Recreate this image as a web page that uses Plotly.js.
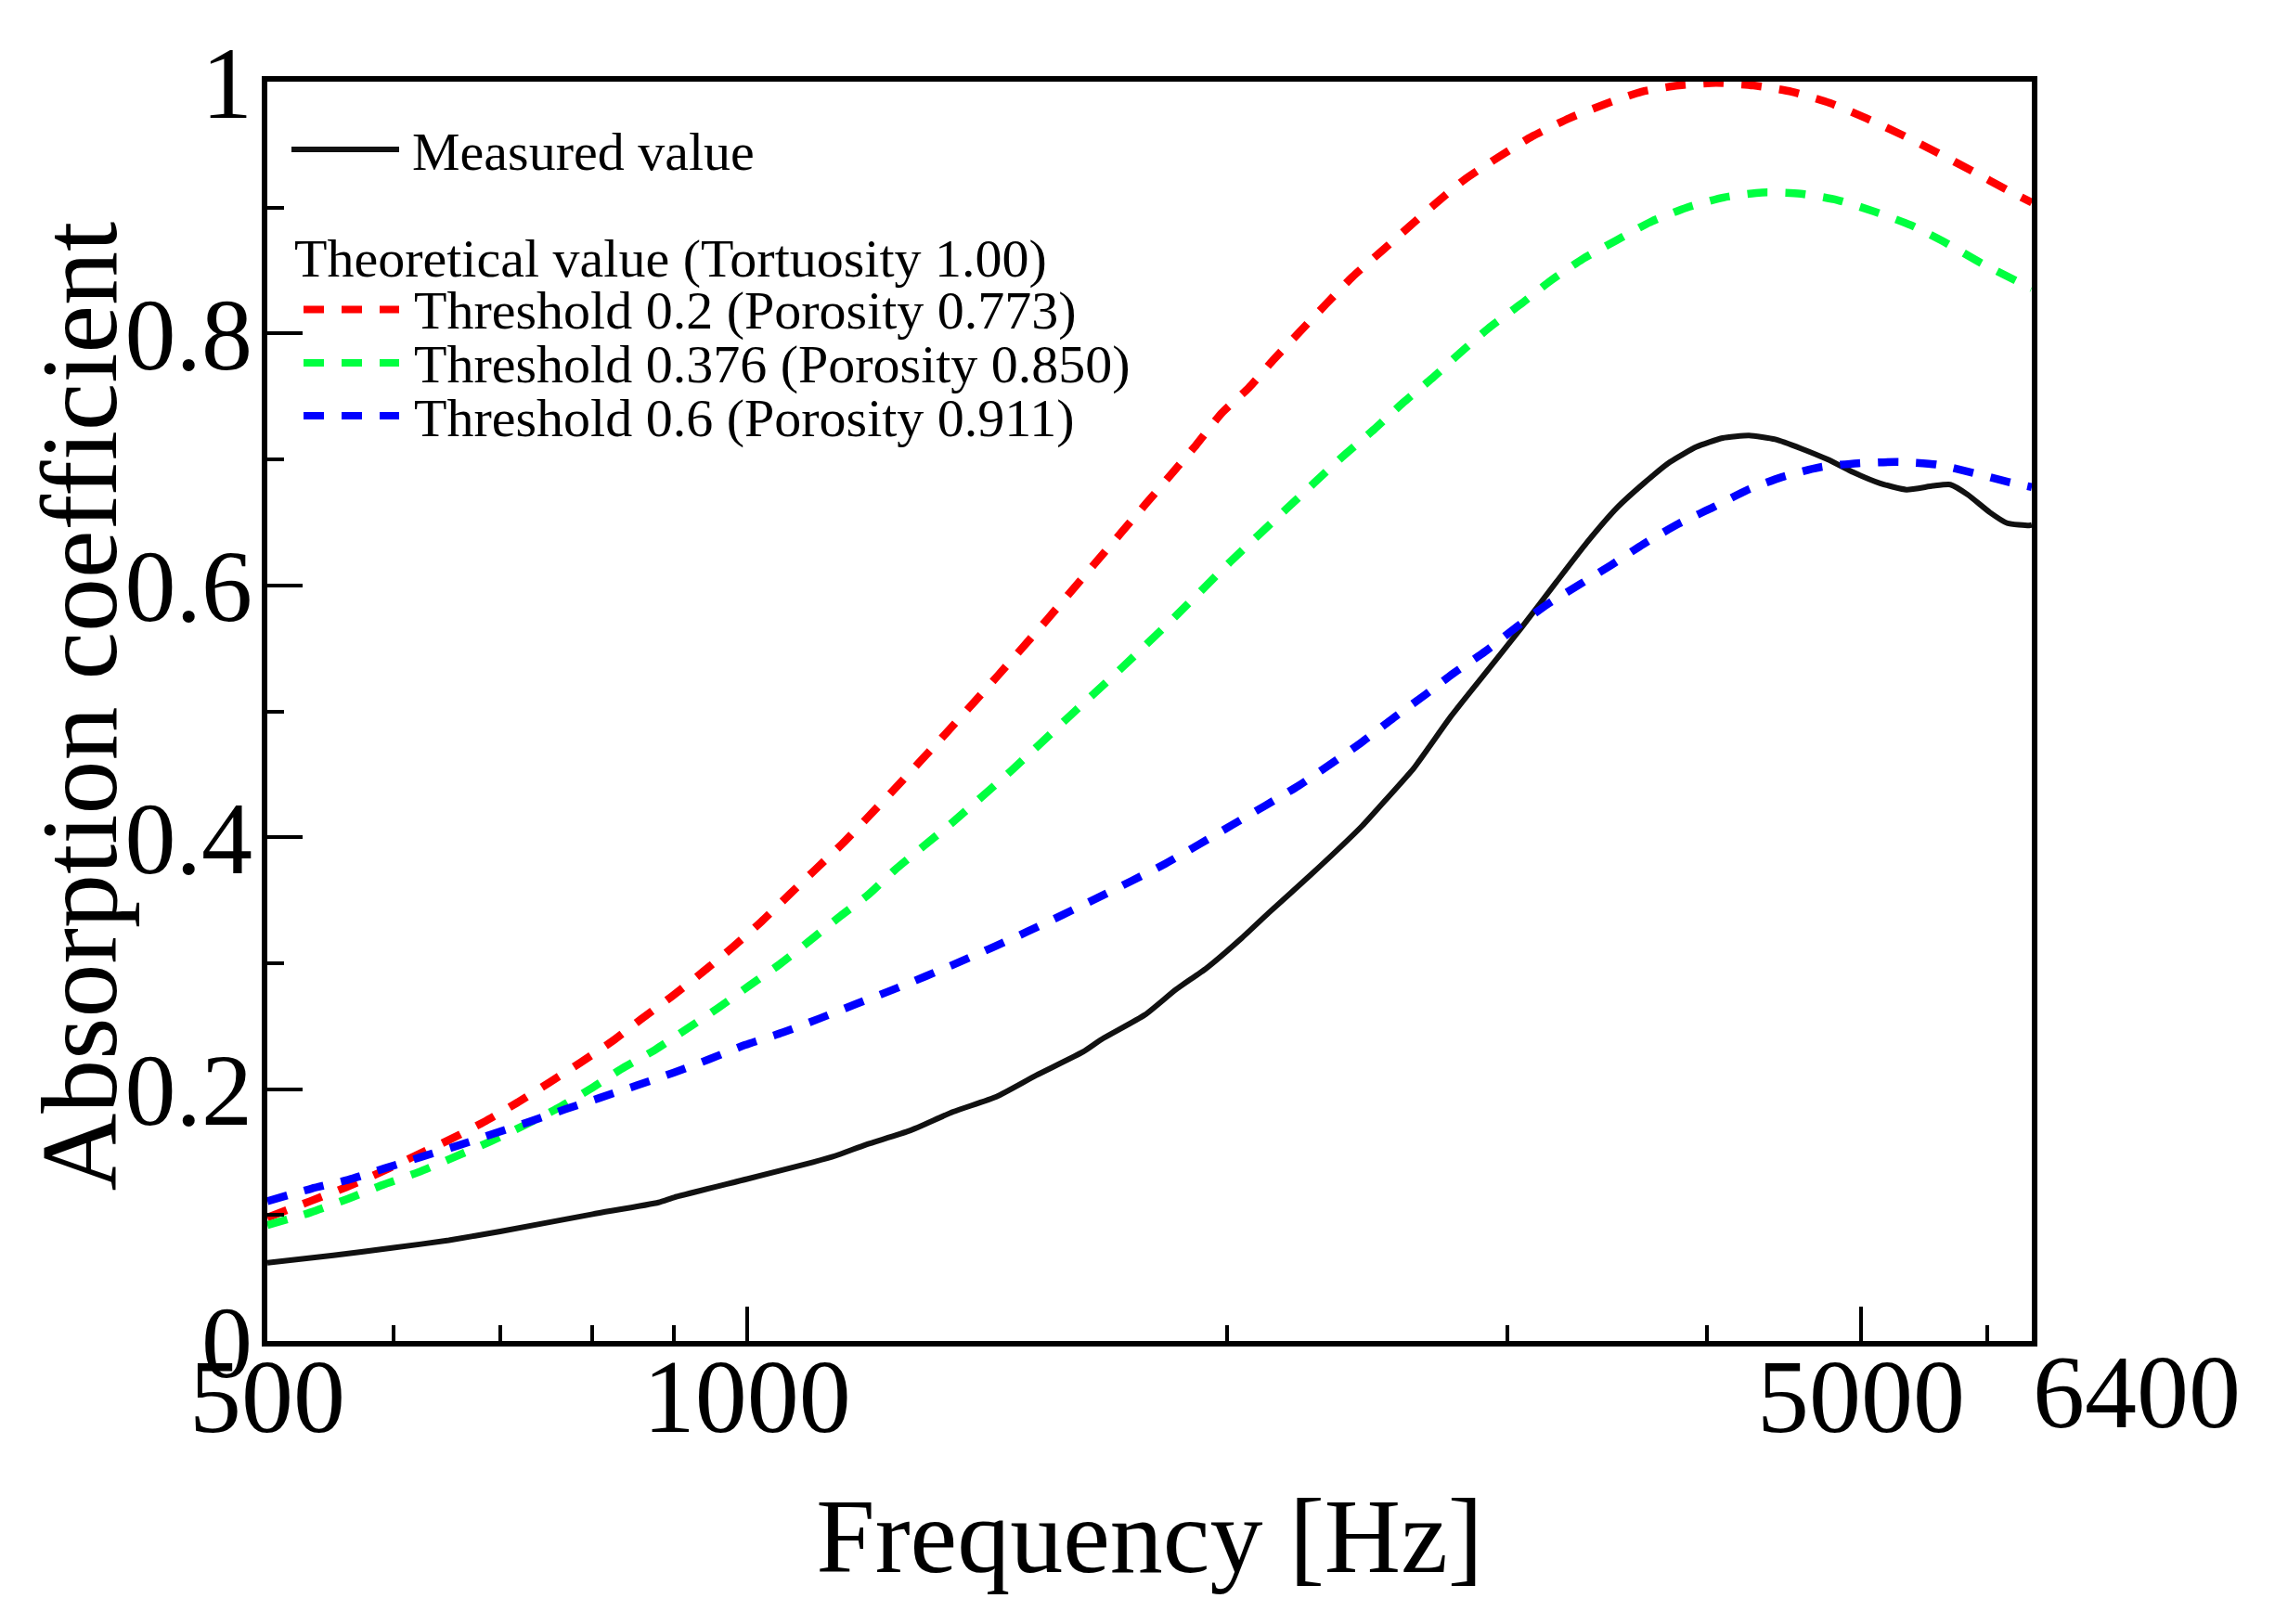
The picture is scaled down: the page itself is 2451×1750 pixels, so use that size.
<!DOCTYPE html>
<html>
<head>
<meta charset="utf-8">
<script src="https://cdn.plot.ly/plotly-3.0.1.min.js"></script>
<style>html,body{margin:0;padding:0;background:#fff;}#chart{width:2451px;height:1750px;}</style>
</head>
<body>
<div id="chart"></div>
<script>
// ---------- data ----------
const measuredFreq = [500,550,600,650,700,800,880,900,1000,1100,1136,1188,1265,1347,1434,1519,1625,1669,1777,1858,1942,2044,2125,2256,2432,2516,2621,2765,2909,3060,3219,3365,3517,3653,3795,3942,4094,4253,4417,4588,4765,4950,5141,5340,5547,5690,5835,6023,6177,6377,6400];
const measuredVal  = [0.062,0.068,0.074,0.080,0.087,0.1007,0.110,0.114,0.1286,0.142,0.147,0.156,0.167,0.182,0.194,0.211,0.2296,0.2395,0.259,0.279,0.296,0.320,0.340,0.3697,0.409,0.4296,0.455,0.496,0.531,0.566,0.6025,0.634,0.662,0.681,0.698,0.710,0.717,0.719,0.716,0.7086,0.700,0.6895,0.681,0.676,0.679,0.680,0.672,0.658,0.6494,0.6476,0.648];

const redFreq = [500,532,560,589,619,651,684,717,751,786,823,859,898,938,979,1021,1062,1103,1148,1193,1238,1334,1436,1543,1657,1780,1912,1986,2065,2139,2221,2307,2398,2499,2604,2697,2818,2965,3109,3281,3451,3642,3843,4056,4280,4524,4781,5038,5300,5576,5872,6177,6400];
const redVal  = [0.098,0.111,0.122,0.134,0.147,0.160,0.174,0.189,0.205,0.221,0.238,0.256,0.274,0.293,0.3125,0.333,0.354,0.374,0.395,0.417,0.4385,0.483,0.528,0.573,0.619,0.665,0.711,0.737,0.757,0.779,0.801,0.823,0.845,0.865,0.885,0.902,0.922,0.9405,0.9565,0.971,0.982,0.992,0.997,0.999,0.997,0.992,0.983,0.971,0.958,0.944,0.929,0.914,0.904];

const greenFreq = [500,532,562,591,622,655,689,724,761,797,834,875,917,958,1003,1048,1094,1142,1193,1238,1346,1464,1587,1720,1859,2011,2179,2363,2475,2580,2688,2798,2918,3056,3194,3343,3512,3695,3887,4099,4334,4582,4832,5093,5374,5653,5948,6255,6400];
const greenVal  = [0.092,0.102,0.113,0.124,0.134,0.146,0.158,0.171,0.185,0.200,0.216,0.231,0.248,0.264,0.282,0.299,0.3175,0.3365,0.355,0.374,0.412,0.4526,0.494,0.535,0.576,0.619,0.6605,0.702,0.724,0.745,0.764,0.784,0.804,0.823,0.842,0.859,0.874,0.889,0.900,0.908,0.912,0.911,0.906,0.897,0.886,0.872,0.856,0.842,0.836];

const blueFreq = [500,533,562,592,624,658,693,730,769,808,853,899,948,997,1053,1110,1170,1235,1354,1499,1660,1830,2017,2219,2428,2546,2663,2774,2905,3040,3178,3333,3484,3653,3843,4038,4239,4460,4720,4981,5280,5576,5872,6195,6400];
const blueVal  = [0.111,0.121,0.128,0.137,0.146,0.155,0.1645,0.174,0.184,0.193,0.203,0.213,0.224,0.235,0.245,0.256,0.2675,0.279,0.300,0.325,0.352,0.379,0.410,0.441,0.475,0.495,0.513,0.530,0.5475,0.567,0.585,0.601,0.616,0.633,0.649,0.662,0.6755,0.686,0.694,0.697,0.698,0.696,0.6895,0.682,0.678];

const seriesNames = ['Measured value','Threshold 0.2 (Porosity 0.773)','Threshold 0.376 (Porosity 0.850)','Threshold 0.6 (Porosity 0.911)'];
const legendHeader = 'Theoretical value (Tortuosity 1.00)';

const xTickVals = [500,1000,5000];
const xTickText = ['500','1000','5000'];
const xMinorVals = [600,700,800,900,2000,3000,4000,6000];
const xEndLabel = '6400';
const xEndVal = 6400;
const yTickVals = [0,0.2,0.4,0.6,0.8,1];
const yTickText = ['0','0.2','0.4','0.6','0.8','1'];
const yMinorVals = [0.1,0.3,0.5,0.7,0.9];

// ---------- styles ----------
const FONT = 'Liberation Serif, Times New Roman, serif';
const RED = '#ff0000', GREEN = '#00ff40', BLUE = '#0000ff', BLACK = '#111111';
const DASH = '22px,19px';

// plot area in pixels
const W = 2451, H = 1750, L = 288, R = 2189, T = 88, B = 1445;
const px = x => (x - L) / (R - L);
const py = y => (B - y) / (B - T);

const traces = [
  {x: measuredFreq, y: measuredVal, name: seriesNames[0], mode: 'lines', line: {color: BLACK, width: 6, shape: 'spline', smoothing: 0.5}},
  {x: redFreq, y: redVal, name: seriesNames[1], mode: 'lines', line: {color: RED, width: 8.5, dash: DASH, shape: 'spline', smoothing: 0.6}},
  {x: greenFreq, y: greenVal, name: seriesNames[2], mode: 'lines', line: {color: GREEN, width: 8.5, dash: DASH, shape: 'spline', smoothing: 0.6}},
  {x: blueFreq, y: blueVal, name: seriesNames[3], mode: 'lines', line: {color: BLUE, width: 8.5, dash: DASH, shape: 'spline', smoothing: 0.6}}
];

const legendRows = [
  {text: seriesNames[0], tx: 444, ty: 163.5, lx0: 314, lx1: 430, ly: 161, color: BLACK, width: 6, dash: 'solid'},
  {text: seriesNames[1], tx: 446, ty: 335, lx0: 327, lx1: 430, ly: 333.5, color: RED, width: 8, dash: DASH},
  {text: seriesNames[2], tx: 446, ty: 392.5, lx0: 327, lx1: 430, ly: 391, color: GREEN, width: 8, dash: DASH},
  {text: seriesNames[3], tx: 446, ty: 450.5, lx0: 327, lx1: 430, ly: 448, color: BLUE, width: 8, dash: DASH}
];

const annotations = [];
const shapes = [];
legendRows.forEach(r => {
  annotations.push({xref: 'paper', yref: 'paper', x: px(r.tx), y: py(r.ty), xanchor: 'left', yanchor: 'middle',
    text: r.text, showarrow: false, borderpad: 0, borderwidth: 0, font: {family: FONT, size: 58, color: '#000'}});
  shapes.push({type: 'line', xref: 'paper', yref: 'paper', x0: px(r.lx0), x1: px(r.lx1), y0: py(r.ly), y1: py(r.ly),
    line: {color: r.color, width: r.width, dash: r.dash}});
});
annotations.push({xref: 'paper', yref: 'paper', x: px(317), y: py(278.5), xanchor: 'left', yanchor: 'middle',
  text: legendHeader, showarrow: false, borderpad: 0, borderwidth: 0, font: {family: FONT, size: 58, color: '#000'}});
// end tick label of the x axis
annotations.push({xref: 'x', yref: 'paper', x: Math.log10(xEndVal), y: py(1500), xanchor: 'left', yanchor: 'middle',
  xshift: 1, text: xEndLabel, showarrow: false, borderpad: 0, borderwidth: 0, font: {family: FONT, size: 112, color: '#000'}});
// y axis title
annotations.push({xref: 'paper', yref: 'paper', x: px(85), y: py(761.5), xanchor: 'center', yanchor: 'middle',
  textangle: -90, text: 'Absorption coefficient', showarrow: false, borderpad: 0, borderwidth: 0,
  font: {family: FONT, size: 116, color: '#000'}});

const layout = {
  width: W, height: H,
  margin: {l: L, r: W - R, t: T, b: H - B, pad: 0},
  paper_bgcolor: '#fff', plot_bgcolor: '#fff',
  showlegend: false,
  font: {family: FONT, color: '#000'},
  xaxis: {
    type: 'log', range: [Math.log10(500), Math.log10(6400)],
    tickmode: 'array', tickvals: xTickVals, ticktext: xTickText,
    ticks: 'inside', ticklen: 37, tickwidth: 4, tickcolor: '#000',
    minor: {tickmode: 'array', tickvals: xMinorVals, ticks: 'inside', ticklen: 17, tickwidth: 4, tickcolor: '#000', showgrid: false},
    showline: true, linewidth: 6, linecolor: '#000', mirror: true,
    showgrid: false, zeroline: false,
    ticklabelstandoff: -42,
    tickfont: {family: FONT, size: 112, color: '#000'},
    title: {text: 'Frequency [Hz]', font: {family: FONT, size: 114, color: '#000'}, standoff: 50}
  },
  yaxis: {
    range: [0, 1],
    tickmode: 'array', tickvals: yTickVals, ticktext: yTickText,
    ticks: 'inside', ticklen: 38, tickwidth: 4, tickcolor: '#000',
    minor: {tickmode: 'array', tickvals: yMinorVals, ticks: 'inside', ticklen: 18, tickwidth: 4, tickcolor: '#000', showgrid: false},
    showline: true, linewidth: 6, linecolor: '#000', mirror: true,
    showgrid: false, zeroline: false,
    ticklabelstandoff: -12,
    tickfont: {family: FONT, size: 110, color: '#000'}
  },
  annotations: annotations,
  shapes: shapes
};

Plotly.newPlot('chart', traces, layout, {displayModeBar: false, staticPlot: true});
</script>
</body>
</html>
